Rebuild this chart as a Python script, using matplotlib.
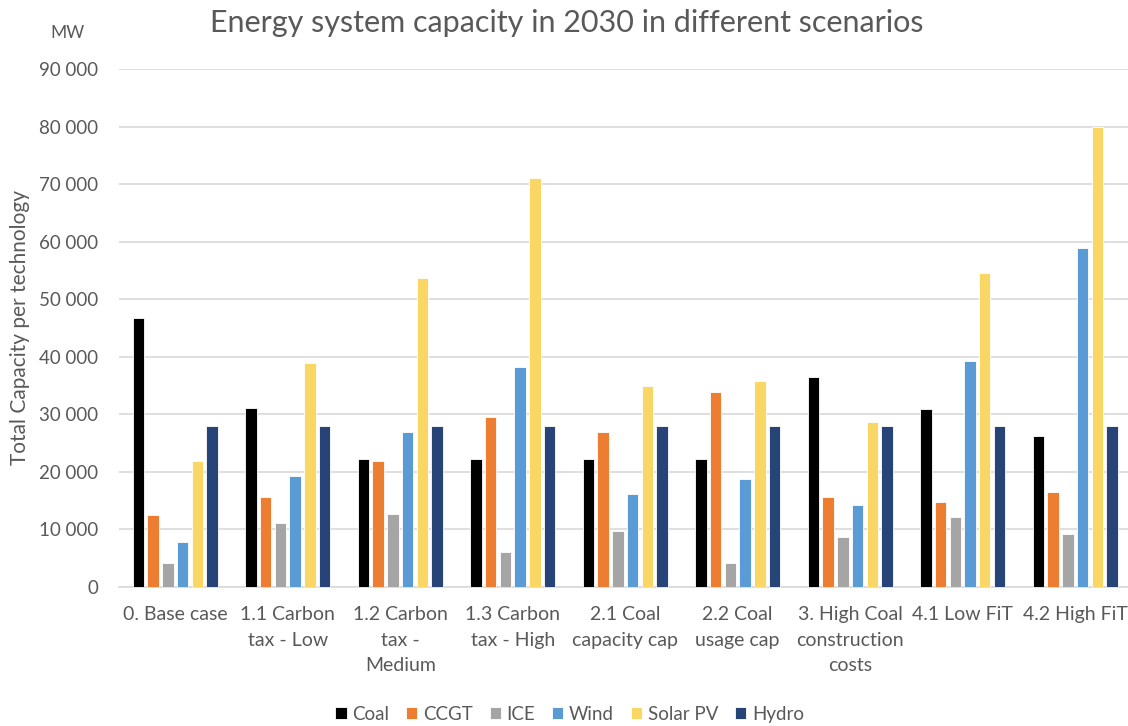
import numpy as np
import matplotlib.pyplot as plt
from matplotlib.ticker import FuncFormatter

plt.rcParams['font.family'] = ['Lato', 'DejaVu Sans']

scenarios = ["0. Base case", "1.1 Carbon\ntax - Low", "1.2 Carbon\ntax -\nMedium",
             "1.3 Carbon\ntax - High", "2.1 Coal\ncapacity cap", "2.2 Coal\nusage cap",
             "3. High Coal\nconstruction\ncosts", "4.1 Low FiT", "4.2 High FiT"]

coal = [46800, 31100, 22300, 22300, 22300, 22300, 36500, 30900, 26300]
ccgt = [12500, 15700, 21800, 29600, 26900, 33900, 15700, 14700, 16500]
ice = [4100, 11200, 12700, 6100, 9700, 4100, 8700, 12200, 9200]
wind = [7900, 19300, 26900, 38200, 16200, 18800, 14200, 39200, 58900]
solar_pv = [21800, 39000, 53600, 71100, 35000, 35700, 28600, 54600, 80000]
hydro = [27900, 27900, 27900, 27900, 27900, 27900, 27900, 27900, 27900]

series = [("Coal", coal, "#000000"), ("CCGT", ccgt, "#ED7D31"), ("ICE", ice, "#A5A5A5"),
          ("Wind", wind, "#5B9BD5"), ("Solar PV", solar_pv, "#FAD764"), ("Hydro", hydro, "#264478")]

txt = "#595959"

fig = plt.figure(figsize=(11.28, 7.26), dpi=100)
ax = fig.add_axes([0.1055, 0.1915, 0.8975, 0.7135])

x = np.arange(len(scenarios))
step = 0.131
width = 0.102
for i, (name, vals, col) in enumerate(series):
    ax.bar(x + (i - 2.5) * step, vals, width, color=col, label=name,
           edgecolor="white", linewidth=0.6, zorder=3)

ax.set_xlim(-0.5, len(scenarios) - 0.5)
ax.set_ylim(0, 90000)
ax.set_yticks(range(0, 90001, 10000))
ax.yaxis.set_major_formatter(FuncFormatter(lambda v, p: f"{int(v):,}".replace(",", " ")))
ax.grid(axis="y", color="#D9D9D9", linewidth=1.2, zorder=0)
for s in ["top", "right", "left"]:
    ax.spines[s].set_visible(False)
ax.spines["bottom"].set_color("#D9D9D9")
ax.spines["bottom"].set_linewidth(1.2)
ax.tick_params(axis="both", length=0, labelcolor=txt)
ax.tick_params(axis="y", labelsize=13.5, pad=15)
ax.tick_params(axis="x", labelsize=14, pad=14)
ax.set_xticks(x)
ax.set_xticklabels(scenarios, linespacing=1.6)

ax.set_ylabel("Total Capacity per technology", fontsize=15, color=txt)
ax.yaxis.set_label_coords(-0.088, 0.5)
fig.text(0.06, 0.955, "MW", fontsize=12.5, color=txt, ha="center", va="center")
fig.text(0.502, 0.968, "Energy system capacity in 2030 in different scenarios",
         fontsize=22, color=txt, ha="center", va="center")

fig.legend(loc="center", bbox_to_anchor=(0.505, 0.016), ncol=6, frameon=False,
           fontsize=13.5, handlelength=0.6, handleheight=0.6, handletextpad=0.3,
           columnspacing=0.9, labelcolor=txt)

fig.savefig("out.png", dpi=100)
